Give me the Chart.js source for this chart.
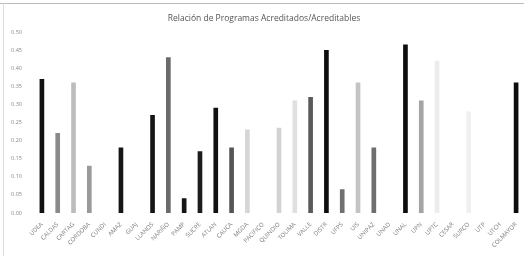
<!DOCTYPE html>
<html>
<head>
<meta charset="utf-8">
<script src="https://cdn.jsdelivr.net/npm/chart.js@4"></script>
<style>
  body { margin: 0; background: #fff; }
  #wrap { position: relative; width: 524px; height: 256px; }
  #wrap:before { content: ""; position: absolute; left: 0; right: 0; top: 3px; height: 1px; background: #bbb; }
  #wrap:after { content: ""; position: absolute; left: 3px; top: 3px; bottom: 0; width: 1px; background: #ddd; }
</style>
</head>
<body>
<div id="wrap"><canvas id="chart" width="524" height="256"></canvas></div>
<script>
// universidades
const universidades = ["UDEA", "CALDAS", "CARTAG", "CORDOBA", "CUNDI", "AMAZ", "GUAJ", "LLANOS", "NARIÑO", "PAMP",
    "SUCRE", "ATLAN", "CAUCA", "MGDA", "PACIFICO", "QUINDIO", "TOLIMA", "VALLE", "DISTR", "UFPS",
    "UIS", "UNIPAZ", "UNAD", "UNAL", "UPN", "UPTC", "CESAR", "SURCO", "UTP", "UTCH", "COLMAYOR"];
// relacion acreditados / acreditables
const relacion = [0.37, 0.22, 0.36, 0.13, 0, 0.18, 0, 0.27, 0.43, 0.04,
    0.17, 0.29, 0.18, 0.23, 0, 0.235, 0.31, 0.32, 0.45, 0.065,
    0.36, 0.18, 0, 0.465, 0.31, 0.42, 0, 0.28, 0, 0, 0.36];
// tono de cada barra (copia en escala de grises)
const tonos = ["#111", "#8a8a8a", "#bdbdbd", "#9a9a9a", "#fff", "#151515", "#fff", "#151515", "#6a6a6a", "#151515",
    "#1c1c1c", "#111", "#555", "#d6d6d6", "#fff", "#d2d2d2", "#e0e0e0", "#5a5a5a", "#0d0d0d", "#707070",
    "#c4c4c4", "#6e6e6e", "#fff", "#0d0d0d", "#a4a4a4", "#ececec", "#fff", "#f0f0f0", "#fff", "#fff", "#0d0d0d"];
const ticksY = [0, 0.05, 0.10, 0.15, 0.20, 0.25, 0.30, 0.35, 0.40, 0.45, 0.50];

new Chart(document.getElementById("chart"), {
    type: "bar",
    data: {
        labels: universidades,
        datasets: [{
            data: relacion,
            backgroundColor: tonos,
            barThickness: 4
        }]
    },
    options: {
        responsive: false,
        animation: false,
        layout: { padding: { top: 4, left: 4, right: 0, bottom: 0 } },
        plugins: {
            legend: { display: false },
            tooltip: { enabled: false },
            title: {
                display: true,
                text: "Relación de Programas Acreditados/Acreditables",
                color: "#555",
                font: { family: "Open Sans", size: 8.5, weight: "normal" },
                padding: { top: 9, bottom: 9 }
            }
        },
        scales: {
            x: {
                grid: { display: false },
                border: { display: false },
                ticks: {
                    color: "#777",
                    font: { family: "Open Sans", size: 6 },
                    minRotation: 45,
                    maxRotation: 45,
                    autoSkip: false,
                    padding: 0
                },
                afterFit: function(scale) { scale.height = 43; }
            },
            y: {
                min: 0,
                max: 0.5,
                grid: { display: false },
                border: { display: false },
                afterBuildTicks: function(scale) { scale.ticks = ticksY.map(v => ({ value: v })); },
                ticks: {
                    color: "#888",
                    font: { family: "Open Sans", size: 5.5 },
                    padding: 4,
                    callback: v => v.toFixed(2)
                },
                afterFit: function(scale) { scale.width = 30; }
            }
        }
    }
});
</script>
</body>
</html>
